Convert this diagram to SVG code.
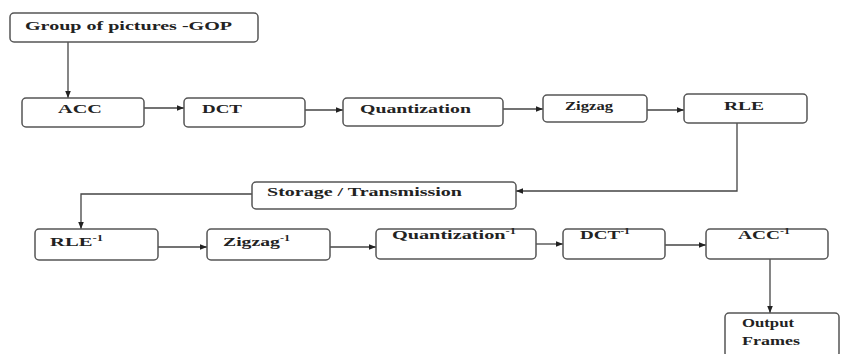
<svg xmlns="http://www.w3.org/2000/svg" width="842" height="354" viewBox="0 0 842 354">
<defs>
<style>
.box{fill:#fff;stroke:#555;stroke-width:1.5}
.lbl{font-family:"Liberation Serif","Times New Roman",serif;font-weight:bold;font-size:13px;fill:#222}
.sup{font-size:8px}
.con{fill:none;stroke:#444;stroke-width:1.3}
</style>
<marker id="ah" viewBox="0 0 10 10" refX="10" refY="5" markerWidth="7" markerHeight="7" markerUnits="userSpaceOnUse" orient="auto">
<path d="M0,1 L10,5 L0,9 z" fill="#222"/>
</marker>
</defs>
<rect width="842" height="354" fill="#fff"/>
<g id="connectors">
<path class="con" d="M68,42 V98" marker-end="url(#ah)"/>
<path class="con" d="M144,108 H184" marker-end="url(#ah)"/>
<path class="con" d="M305,110 H343" marker-end="url(#ah)"/>
<path class="con" d="M503,109 H543" marker-end="url(#ah)"/>
<path class="con" d="M647,110 H684" marker-end="url(#ah)"/>
<path class="con" d="M737,123 V191 H516" marker-end="url(#ah)"/>
<path class="con" d="M252,194 H81 V229" marker-end="url(#ah)"/>
<path class="con" d="M158,247 H207" marker-end="url(#ah)"/>
<path class="con" d="M330,247 H376" marker-end="url(#ah)"/>
<path class="con" d="M536,244 H563" marker-end="url(#ah)"/>
<path class="con" d="M665,245 H706" marker-end="url(#ah)"/>
<path class="con" d="M770,259 V313" marker-end="url(#ah)"/>
</g>
<g id="gop">
<rect class="box" x="10" y="13" width="248" height="29" rx="4"/>
<text class="lbl" x="25" y="30" textLength="207" lengthAdjust="spacingAndGlyphs">Group of pictures -GOP</text>
</g>
<g id="acc">
<rect class="box" x="22" y="98" width="122" height="29" rx="4"/>
<text class="lbl" x="58" y="113" textLength="44" lengthAdjust="spacingAndGlyphs">ACC</text>
</g>
<g id="dct">
<rect class="box" x="184" y="98" width="121" height="29" rx="4"/>
<text class="lbl" x="202" y="113" textLength="40" lengthAdjust="spacingAndGlyphs">DCT</text>
</g>
<g id="quant">
<rect class="box" x="343" y="98" width="160" height="28" rx="4"/>
<text class="lbl" x="360" y="113" textLength="111" lengthAdjust="spacingAndGlyphs">Quantization</text>
</g>
<g id="zigzag">
<rect class="box" x="543" y="95" width="104" height="27" rx="4"/>
<text class="lbl" x="565" y="110" textLength="48" lengthAdjust="spacingAndGlyphs">Zigzag</text>
</g>
<g id="rle">
<rect class="box" x="684" y="94" width="123" height="29" rx="4"/>
<text class="lbl" x="724" y="110" textLength="40" lengthAdjust="spacingAndGlyphs">RLE</text>
</g>
<g id="storage">
<rect class="box" x="252" y="182" width="264" height="27" rx="4"/>
<text class="lbl" x="267" y="196" textLength="195" lengthAdjust="spacingAndGlyphs">Storage / Transmission</text>
</g>
<g id="rle-inv">
<rect class="box" x="35" y="229" width="123" height="31" rx="4"/>
<text class="lbl" x="50" y="246" textLength="53" lengthAdjust="spacingAndGlyphs">RLE<tspan class="sup" dy="-5">-1</tspan></text>
</g>
<g id="zigzag-inv">
<rect class="box" x="207" y="229" width="123" height="31" rx="4"/>
<text class="lbl" x="223" y="246" textLength="67" lengthAdjust="spacingAndGlyphs">Zigzag<tspan class="sup" dy="-5">-1</tspan></text>
</g>
<g id="quant-inv">
<rect class="box" x="376" y="229" width="160" height="30" rx="4"/>
<text class="lbl" x="392" y="239" textLength="124" lengthAdjust="spacingAndGlyphs">Quantization<tspan class="sup" dy="-5">-1</tspan></text>
</g>
<g id="dct-inv">
<rect class="box" x="563" y="229" width="102" height="30" rx="4"/>
<text class="lbl" x="580" y="239" textLength="50" lengthAdjust="spacingAndGlyphs">DCT<tspan class="sup" dy="-5">-1</tspan></text>
</g>
<g id="acc-inv">
<rect class="box" x="706" y="229" width="122" height="30" rx="4"/>
<text class="lbl" x="738" y="239" textLength="52" lengthAdjust="spacingAndGlyphs">ACC<tspan class="sup" dy="-5">-1</tspan></text>
</g>
<g id="output">
<rect class="box" x="725" y="313" width="114" height="44" rx="4"/>
<text class="lbl" x="742" y="327" textLength="52" lengthAdjust="spacingAndGlyphs">Output</text>
<text class="lbl" x="742" y="345" textLength="58" lengthAdjust="spacingAndGlyphs">Frames</text>
</g>
</svg>
